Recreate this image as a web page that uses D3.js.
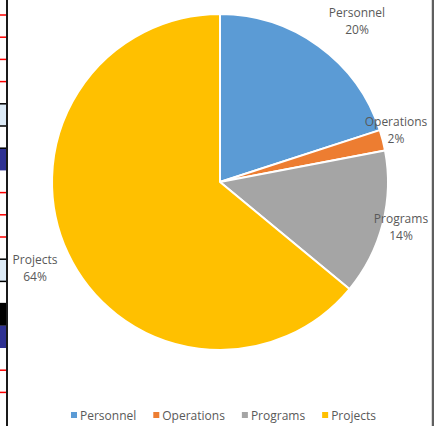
<!DOCTYPE html>
<html>
<head>
<meta charset="utf-8">
<script src="https://cdn.jsdelivr.net/npm/d3@7"></script>
<style>
  html, body { margin: 0; padding: 0; background: #fff; }
  svg { display: block; }
  text { font-family: "Open Sans", "Liberation Sans", sans-serif; }
</style>
</head>
<body>
<svg id="chart" width="439" height="426"></svg>
<script>
// Budget share by category
const categories = ["Personnel", "Operations", "Programs", "Projects"];
const shares = [20, 2, 14, 64];
const colors = ["#5B9BD5", "#ED7D31", "#A5A5A5", "#FFC000"];

// Worksheet column peeking in at the left edge (row index -> cell fill)
const rowFills = [null, null, null, null, "#DDEBF7", null, "#2E3192", null, null, null, null, "#DDEBF7", null, "#000000", "#2E3192", null, null, null];

const W = 439, H = 426;
const svg = d3.select("#chart");

// --- sheet edge decoration ---
const rowH = 22.2, row0 = 15;
const edge = svg.append("g");
rowFills.forEach((f, i) => {
  const y = row0 + i * rowH;
  if (f) {
    edge.append("rect").attr("x", 0).attr("y", y).attr("width", 7).attr("height", rowH).attr("fill", f);
  }
});
rowFills.forEach((f, i) => {
  const y = row0 + i * rowH;
  const prev = i > 0 ? rowFills[i - 1] : null;
  if (!f && !prev) {
    edge.append("line").attr("x1", 0).attr("x2", 6).attr("y1", y).attr("y2", y)
      .attr("stroke", "#FF0000").attr("stroke-width", 1.5);
  } else if (!f && prev === "#DDEBF7") {
    edge.append("line").attr("x1", 0).attr("x2", 6).attr("y1", y).attr("y2", y)
      .attr("stroke", "#000").attr("stroke-width", 1.5);
  } else if (f && !prev) {
    edge.append("line").attr("x1", 0).attr("x2", 6).attr("y1", y).attr("y2", y)
      .attr("stroke", "#000").attr("stroke-width", 1.5);
  }
});
edge.append("line").attr("x1", 7).attr("x2", 7).attr("y1", 0).attr("y2", H)
  .attr("stroke", "#1a1a1a").attr("stroke-width", 2);
edge.append("line").attr("x1", 431.5).attr("x2", 431.5).attr("y1", 0).attr("y2", H)
  .attr("stroke", "#d9d9d9").attr("stroke-width", 1);
edge.append("line").attr("x1", 433).attr("x2", 433).attr("y1", 0).attr("y2", H)
  .attr("stroke", "#5f5f5f").attr("stroke-width", 2);

// --- pie ---
const cx = 220, cy = 182, r = 168;
const data = categories.map((c, i) => ({ name: c, value: shares[i], color: colors[i] }));
const pie = d3.pie().sort(null).value(d => d.value);
const arc = d3.arc().innerRadius(0).outerRadius(r);
const arcs = pie(data);

const g = svg.append("g").attr("transform", `translate(${cx},${cy})`);
g.selectAll("path").data(arcs).join("path")
  .attr("d", arc)
  .attr("fill", d => d.data.color)
  .attr("stroke", "#fff")
  .attr("stroke-width", 2)
  .attr("stroke-linejoin", "round");

// data labels outside the pie
const total = d3.sum(shares);
const labelPos = {
  Personnel: [357, 12],
  Operations: [396, 121],
  Programs: [401, 218],
  Projects: [35, 259]
};
const lbl = svg.append("g").attr("fill", "#595959").attr("font-size", 12).attr("text-anchor", "middle");
arcs.forEach(a => {
  const [x, y] = labelPos[a.data.name];
  const t = lbl.append("text").attr("x", x).attr("y", y).attr("dominant-baseline", "central");
  t.append("tspan").attr("x", x).text(a.data.name);
  t.append("tspan").attr("x", x).attr("dy", 17).text(Math.round(a.data.value / total * 100) + "%");
});

// --- legend ---
const leg = svg.append("g").attr("font-size", 12).attr("fill", "#595959");
const items = [];
let xCur = 0;
data.forEach((d, i) => {
  const it = leg.append("g");
  it.append("rect").attr("x", 0).attr("y", -3).attr("width", 6).attr("height", 6).attr("fill", d.color);
  const t = it.append("text").attr("x", 9).attr("y", 0).attr("dominant-baseline", "central").text(d.name);
  const w = 9 + t.node().getComputedTextLength();
  items.push({ g: it, x: xCur });
  xCur += w + 17;
});
const legW = xCur - 17;
const legX = 223.5 - legW / 2, legY = 415;
items.forEach(it => it.g.attr("transform", `translate(${legX + it.x},${legY})`));
</script>
</body>
</html>
